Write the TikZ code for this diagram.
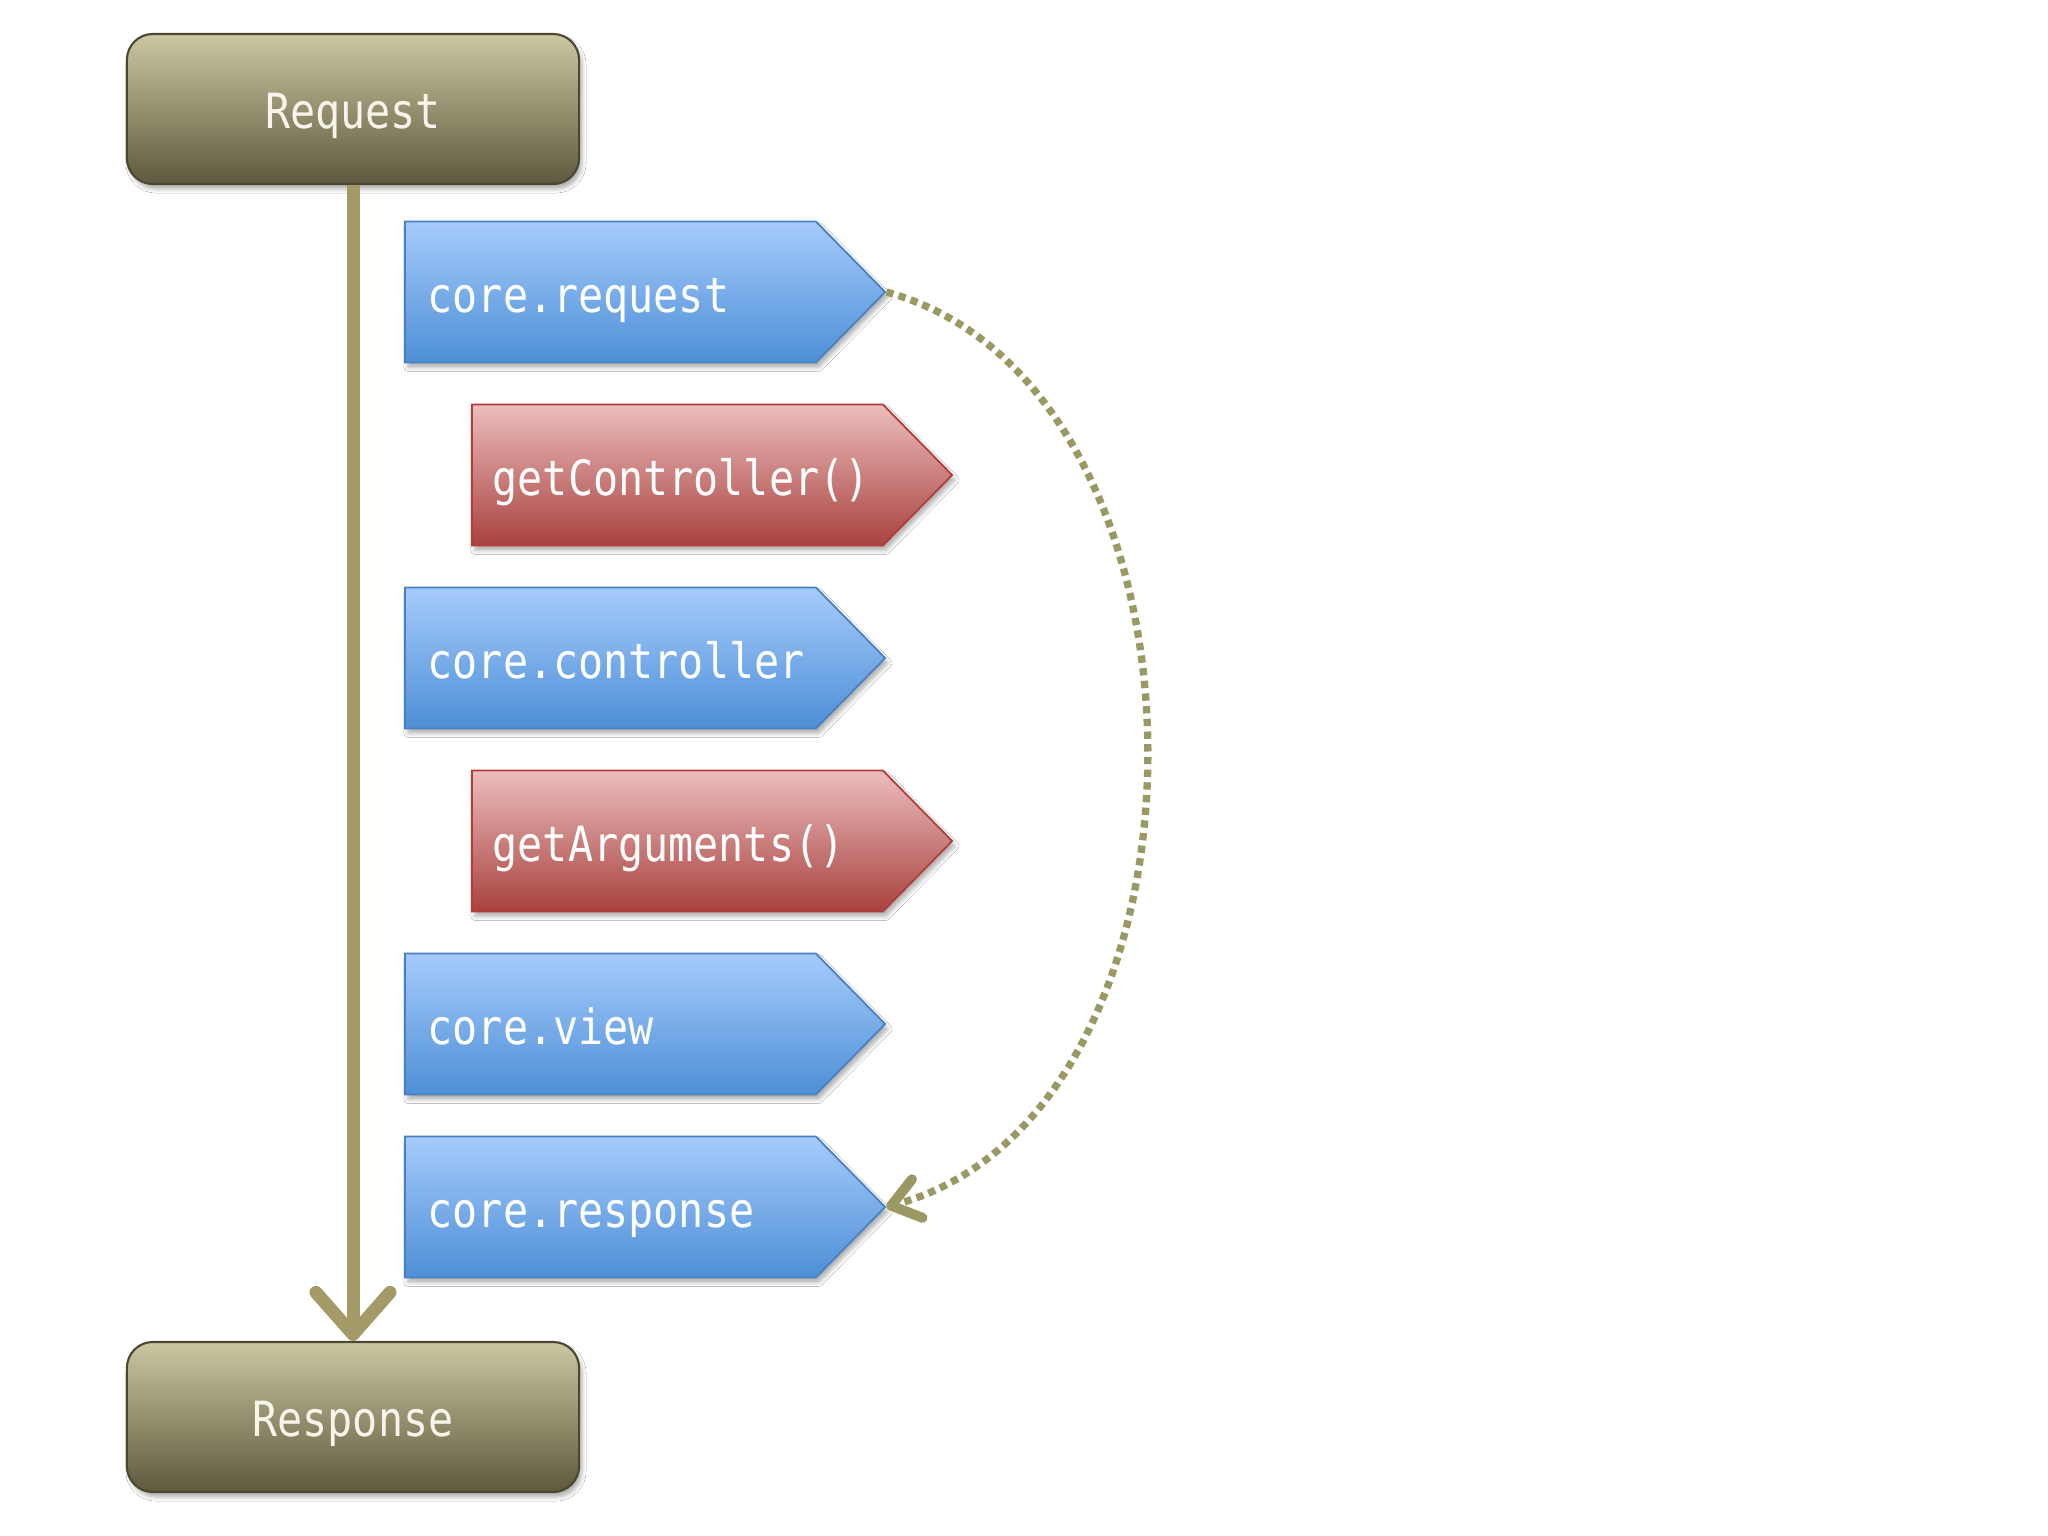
\documentclass[tikz,border=0pt]{standalone}
\usepackage{fontspec}
\usetikzlibrary{shapes.symbols,arrows.meta,shadows.blur}
\newfontfamily\lblfont[FakeStretch=0.86]{DejaVu Sans Mono}
\definecolor{ktop}{HTML}{CBC7A1}
\definecolor{kbot}{HTML}{5E593D}
\definecolor{kdraw}{HTML}{4B4733}
\definecolor{btop}{HTML}{A6CBFC}
\definecolor{bbot}{HTML}{4D8FD6}
\definecolor{bdraw}{HTML}{4A7FC0}
\definecolor{rtop}{HTML}{EBBDBD}
\definecolor{rbot}{HTML}{A9423F}
\definecolor{rdraw}{HTML}{B33B39}
\definecolor{flow}{HTML}{A39A67}
\definecolor{dotc}{HTML}{9B9963}
\definecolor{ktext}{HTML}{F7F5EA}
\begin{document}
\begin{tikzpicture}[x=0.01cm,y=-0.01cm,
  shad/.style={blur shadow={shadow xshift=0.03cm,shadow yshift=-0.05cm,shadow blur radius=0.04cm,shadow opacity=30}},
  lblfnt/.style={font=\lblfont\fontsize{13.8}{16}\selectfont},
  kbox/.style={shad, rectangle, rounded corners=0.26cm, minimum width=4.52cm, minimum height=1.50cm,
    top color=ktop, bottom color=kbot, draw=kdraw, line width=0.6pt, text=ktext, lblfnt,
    text height=0.39cm, text depth=0cm, inner sep=0pt},
  tag/.style={shad, signal, signal to=east, signal from=nowhere, signal pointer angle=91,
    minimum height=1.41cm, minimum width=4.80cm, inner sep=0pt, line width=0.5pt},
  bluetag/.style={tag, top color=btop, bottom color=bbot, draw=bdraw},
  redtag/.style={tag, top color=rtop, bottom color=rbot, draw=rdraw},
  lbl/.style={anchor=base west, text=white, lblfnt, inner sep=0pt},
  flowarrow/.style={draw=flow, line width=0.13cm,
    -{Straight Barb[length=0.42cm, width=0.74cm, round]}},
  dotarrow/.style={draw=dotc, line width=0.073cm, dash pattern=on 0.073cm off 0.054cm,
    -{Straight Barb[length=0.27cm, width=0.40cm, line width=0.1cm, round]}}
]
\path[use as bounding box, fill=white] (0,0) rectangle (2048,1536);

\node[kbox] (req) at (353,109) {Request};
\node[kbox] (resp) at (353,1417) {Response};

\node[bluetag, anchor=west] (cr) at (404,292) {};
\node[lbl] (crt) at (427,312) {core.request};

\node[redtag, anchor=west] (gc) at (471,475) {};
\node[lbl] (gct) at (492,495) {getController()};

\node[bluetag, anchor=west] (cc) at (404,658) {};
\node[lbl] (cct) at (427,678) {core.controller};

\node[redtag, anchor=west] (ga) at (471,841) {};
\node[lbl] (gat) at (492,861) {getArguments()};

\node[bluetag, anchor=west] (cv) at (404,1024) {};
\node[lbl] (cvt) at (427,1044) {core.view};

\node[bluetag, anchor=west] (cresp) at (404,1207) {};
\node[lbl] (cresptt) at (427,1227) {core.response};

\draw[flowarrow] (req) -- (resp);
\draw[dotarrow] (cr.east) .. controls +(347,95) and +(347,-95) .. (cresp.east);
\end{tikzpicture}
\end{document}
